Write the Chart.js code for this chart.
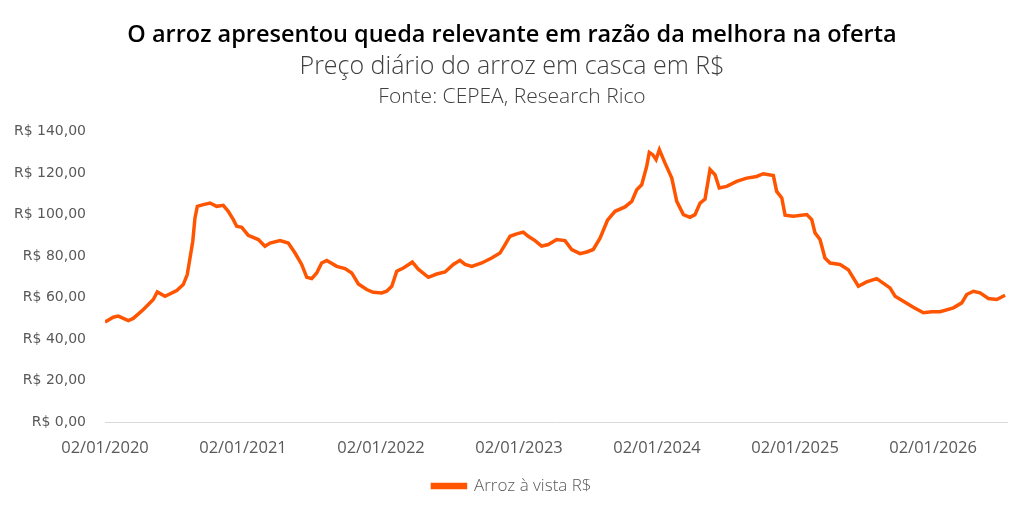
<!DOCTYPE html>
<html lang="pt-BR">
<head>
<meta charset="utf-8">
<title>Arroz em casca</title>
<script src="https://cdn.jsdelivr.net/npm/chart.js@4/dist/chart.umd.min.js"></script>
<style>
  html, body { margin: 0; padding: 0; background: #fff; }
  #wrap { width: 1024px; height: 512px; }
</style>
</head>
<body>
<div id="wrap"><canvas id="grafico" width="1024" height="512"></canvas></div>
<script>
// anos desde 02/01/2020 (posição no eixo)
const anos = [
  0, 0.060, 0.096, 0.169, 0.205, 0.278, 0.350, 0.379, 0.435, 0.520,
  0.567, 0.596, 0.616, 0.636, 0.652, 0.669, 0.712, 0.761, 0.809, 0.857,
  0.893, 0.930, 0.954, 0.991, 1.038, 1.111, 1.159, 1.196, 1.268, 1.328,
  1.377, 1.425, 1.462, 1.498, 1.534, 1.570, 1.607, 1.679, 1.739, 1.788,
  1.836, 1.896, 1.944, 2.005, 2.041, 2.078, 2.114, 2.162, 2.227, 2.270,
  2.343, 2.404, 2.464, 2.524, 2.572, 2.609, 2.657, 2.730, 2.802, 2.862,
  2.899, 2.935, 2.983, 3.031, 3.067, 3.116, 3.164, 3.212, 3.273, 3.333,
  3.382, 3.442, 3.491, 3.538, 3.587, 3.641, 3.696, 3.768, 3.817, 3.853,
  3.889, 3.925, 3.944, 3.969, 3.993, 4.017, 4.058, 4.107, 4.143, 4.191,
  4.239, 4.275, 4.312, 4.348, 4.384, 4.420, 4.451, 4.505, 4.577, 4.650,
  4.722, 4.770, 4.843, 4.867, 4.904, 4.928, 4.988, 5.085, 5.121, 5.145,
  5.181, 5.217, 5.254, 5.326, 5.386, 5.459, 5.519, 5.592, 5.688, 5.725,
  5.785, 5.857, 5.930, 5.991, 6.051, 6.148, 6.208, 6.244, 6.292, 6.341,
  6.401, 6.462, 6.522
];

// Arroz à vista R$
const precos = [
  48.2, 50.5, 51.0, 48.9, 49.9, 54.2, 59.0, 62.7, 60.6, 63.3,
  66.2, 71.0, 79.0, 87.1, 98.3, 103.9, 104.7, 105.5, 103.9, 104.4,
  101.5, 97.5, 94.3, 93.8, 89.9, 87.9, 84.7, 86.2, 87.4, 86.2,
  81.4, 75.9, 69.7, 69.1, 71.8, 76.6, 77.8, 75.0, 73.9, 71.8,
  66.5, 63.8, 62.5, 62.2, 63.0, 65.4, 72.6, 74.2, 77.0, 73.6,
  69.7, 71.3, 72.3, 75.9, 77.9, 75.9, 75.0, 76.6, 79.0, 81.4,
  85.5, 89.5, 90.6, 91.5, 89.5, 87.4, 84.7, 85.5, 87.9, 87.4,
  83.1, 81.1, 81.9, 83.1, 88.6, 97.2, 101.5, 103.6, 106.3, 111.9,
  114.3, 123.1, 129.9, 128.8, 126.4, 131.2, 124.7, 117.5, 106.3, 99.9,
  98.6, 99.9, 105.5, 107.4, 121.6, 119.1, 112.7, 113.5, 115.9, 117.5,
  118.3, 119.6, 118.7, 111.1, 107.9, 99.6, 99.1, 99.9, 97.5, 91.1,
  87.9, 79.0, 76.6, 75.9, 73.4, 65.4, 67.5, 69.1, 64.6, 60.6,
  58.2, 55.3, 52.6, 53.1, 53.1, 55.0, 57.4, 61.4, 63.0, 62.2,
  59.5, 59.0, 61.1
];

const anoInicial = 2020;
const fimEixo = 6.536;

const corLinha = '#ff5500';
const corTexto = '#595959';

const fontePlugin = {
  id: 'fonte',
  afterDraw(chart) {
    const ctx = chart.ctx;
    ctx.save();
    ctx.font = '300 21px "Open Sans"';
    ctx.fillStyle = '#404040';
    ctx.textAlign = 'center';
    ctx.textBaseline = 'middle';
    ctx.fillText('Fonte: CEPEA, Research Rico', chart.width / 2, 97);
    ctx.restore();
  }
};

const ctx = document.getElementById('grafico').getContext('2d');

new Chart(ctx, {
  type: 'line',
  data: {
    datasets: [{
      label: 'Arroz à vista R$',
      data: anos.map((a, i) => ({ x: a, y: precos[i] })),
      borderColor: corLinha,
      backgroundColor: corLinha,
      borderWidth: 3.5,
      pointRadius: 0,
      tension: 0
    }]
  },
  options: {
    responsive: false,
    animation: false,
    layout: { padding: { left: 0, right: 0, top: 0, bottom: 7.5 } },
    plugins: {
      title: {
        display: true,
        text: 'O arroz apresentou queda relevante em razão da melhora na oferta',
        color: '#000',
        font: { family: '"Open Sans"', size: 23.5, weight: '600' },
        padding: { top: 21, bottom: 2.4 }
      },
      subtitle: {
        display: true,
        text: 'Preço diário do arroz em casca em R$',
        color: '#404040',
        font: { family: '"Open Sans"', size: 25, weight: '300' },
        padding: { top: 0, bottom: 49.8 }
      },
      legend: {
        position: 'bottom',
        labels: {
          boxWidth: 33,
          boxHeight: 3,
          color: corTexto,
          font: { family: '"Open Sans"', size: 17, weight: '300' }
        }
      },
      tooltip: { enabled: false }
    },
    scales: {
      x: {
        type: 'linear',
        min: 0,
        max: fimEixo,
        grid: { display: false, drawTicks: false },
        border: { display: true, color: '#d9d9d9', width: 1 },
        ticks: {
          stepSize: 1,
          includeBounds: false,
          autoSkip: false,
          maxRotation: 0,
          padding: 16,
          color: corTexto,
          font: { family: '"Open Sans"', size: 16.5 },
          callback: (v) => '02/01/' + (anoInicial + v)
        },
        afterFit: (s) => { s.height = 45.5; }
      },
      y: {
        min: 0,
        max: 140,
        grid: { display: false, drawTicks: false },
        border: { display: false },
        ticks: {
          stepSize: 20,
          padding: 19,
          color: corTexto,
          font: { family: '"DejaVu Sans"', size: 14 },
          callback: (v) => 'R$ ' + v.toFixed(2).replace('.', ',')
        },
        afterFit: (s) => { s.width = 105; }
      },
      // margem direita vazia
      margem: {
        position: 'right',
        display: true,
        grid: { display: false, drawTicks: false },
        border: { display: false },
        ticks: { display: false },
        afterFit: (s) => { s.width = 17; }
      }
    }
  },
  plugins: [fontePlugin]
});
</script>
</body>
</html>
